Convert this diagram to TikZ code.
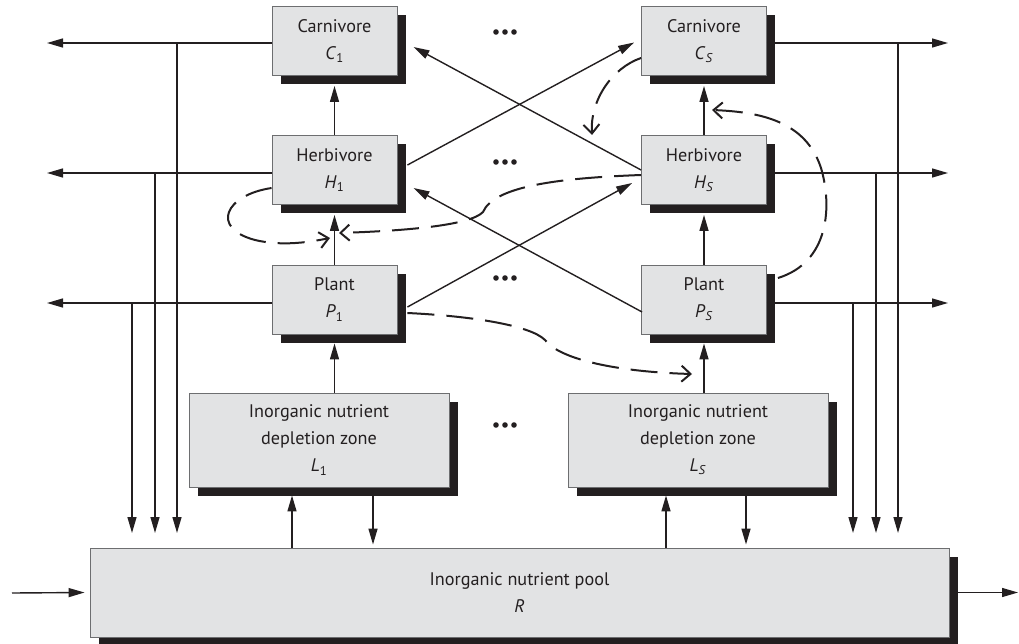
\documentclass[tikz,border=0pt]{standalone}
\usepackage{fontspec}
\setmainfont{PT Sans}
\usetikzlibrary{arrows.meta,shadows,calc}
\definecolor{ink}{HTML}{231F20}
\definecolor{boxfill}{HTML}{E2E3E4}
\definecolor{boxline}{HTML}{6D6E70}
\begin{document}
\begin{tikzpicture}[x=1pt,y=-1pt,
  box/.style={draw=boxline,line width=0.9pt,fill=boxfill,inner sep=0pt,align=center,
    font=\fontsize{18.2}{27}\selectfont,text=ink,
    drop shadow={shadow xshift=8.5pt,shadow yshift=-8.5pt,opacity=1,fill=ink}},
  small/.style={box,minimum width=125pt,minimum height=69pt},
  zone/.style={box,minimum width=260pt,minimum height=94pt},
  arr/.style={draw=ink,line width=1.4pt,-{Triangle[length=16pt,width=9pt]}},
  dsh/.style={draw=ink,line width=2pt,dash pattern=on 27pt off 12pt,
    -{Straight Barb[length=9pt,width=16pt,line width=2pt]}},
  dotrow/.style={fill=ink}
]
\useasboundingbox (0,0) rectangle (1019,644);

% boxes
\node[small] (C1) at (334.5,41) {Carnivore\\\textit{C}\textsubscript{1}};
\node[small] (CS) at (704,41) {Carnivore\\\textit{C}\textsubscript{\textit{S}}};
\node[small] (H1) at (334.5,170) {Herbivore\\\textit{H}\textsubscript{1}};
\node[small] (HS) at (704,170) {Herbivore\\\textit{H}\textsubscript{\textit{S}}};
\node[small] (P1) at (334.5,299.5) {Plant\\\textit{P}\textsubscript{1}};
\node[small] (PS) at (704,299.5) {Plant\\\textit{P}\textsubscript{\textit{S}}};
\node[zone] (L1) at (319,440) {Inorganic nutrient\\depletion zone\\\textit{L}\textsubscript{1}};
\node[zone] (LS) at (698,440) {Inorganic nutrient\\depletion zone\\\textit{L}\textsubscript{\textit{S}}};
\node[box,minimum width=859pt,minimum height=89pt] (R) at (519.5,592.5) {Inorganic nutrient pool\\\textit{R}};

% ellipses between the columns
\foreach \y in {32,162,278,425}
  \foreach \x in {496,505,514}
    \fill[dotrow] (\x,\y) circle (2.8pt);

% outflows to the left
\coordinate (oC1) at (47,43);
\coordinate (oH1) at (47,173);
\coordinate (oP1) at (47,303);
\draw[arr] (C1.west |- oC1) -- (oC1);
\draw[arr] (H1.west |- oH1) -- (oH1);
\draw[arr] (P1.west |- oP1) -- (oP1);

% outflows to the right
\coordinate (oCS) at (948,43);
\coordinate (oHS) at (948,173);
\coordinate (oPS) at (948,303);
\draw[arr] (CS.east |- oCS) -- (oCS);
\draw[arr] (HS.east |- oHS) -- (oHS);
\draw[arr] (PS.east |- oPS) -- (oPS);

% returns down into the pool
\coordinate (tips) at (0,533);
\coordinate (dC1) at (177,43);
\coordinate (dH1) at (155,173);
\coordinate (dP1) at (132,303);
\coordinate (dCS) at (898,43);
\coordinate (dHS) at (876,173);
\coordinate (dPS) at (853,303);
\foreach \c in {dC1,dH1,dP1,dCS,dHS,dPS}
  \draw[arr] (\c) -- (\c |- tips);

% trophic links within a column
\draw[arr] (P1.north) -- ([yshift=-10pt]H1.south);
\draw[arr] (H1.north) -- ([yshift=-10pt]C1.south);
\draw[arr] (PS.north) -- ([yshift=-10pt]HS.south);
\draw[arr] (HS.north) -- ([yshift=-10pt]CS.south);
\draw[arr] (L1.north -| P1.south) -- ([yshift=-9pt]P1.south);
\draw[arr] (LS.north -| PS.south) -- ([yshift=-9pt]PS.south);

% trophic links across columns
\draw[arr] ([shift={(10,-5)}]H1.east) -- ([shift={(-7,1.5)}]CS.west);
\draw[arr] ([shift={(0,0)}]HS.west) -- ([shift={(16,6)}]C1.east);
\draw[arr] ([shift={(10,7.5)}]P1.east) -- ([shift={(-9,13)}]HS.west);
\draw[arr] ([shift={(1,12.5)}]PS.west) -- ([shift={(16,18)}]H1.east);

% exchange between pool and depletion zones
\coordinate (u1) at (292,0);
\coordinate (d1) at (373,0);
\coordinate (uS) at (666,0);
\coordinate (dS) at (746,0);
\draw[arr] (R.north -| u1) -- ([yshift=-8pt]L1.south -| u1);
\draw[arr] ([yshift=-8pt]L1.south -| d1) -- ([yshift=3pt]R.north -| d1);
\draw[arr] (R.north -| uS) -- ([yshift=-8pt]LS.south -| uS);
\draw[arr] ([yshift=-8pt]LS.south -| dS) -- ([yshift=3pt]R.north -| dS);

% pool input and output
\coordinate (inR) at (12,593);
\coordinate (outR) at (1018,592.5);
\draw[arr] (inR) -- ([xshift=-5pt]R.west);
\draw[arr] ([xshift=8.5pt]R.east) -- (outR);

% indirect interactions (dashed)
\coordinate (k1) at (592,135);
\coordinate (k2) at (712,110);
\coordinate (k3) at (339,233);
\coordinate (k4) at (330,238);
\coordinate (k5) at (692,374);
\draw[dsh] ([shift={(0,17)}]CS.west) .. controls (612,68) and (590,100) .. (k1);
\draw[dsh] ([shift={(11,-21.5)}]PS.east) .. controls (830,262) and (832,205) .. (821,168)
  .. controls (806,122) and (762,112) .. (k2);
\draw[dsh] ([shift={(0,5)}]HS.west) .. controls (560,178) and (494,186) .. (483,212)
  .. controls (470,226) and (400,231) .. (k3);
\draw[dsh] ([shift={(0,18)}]H1.west) .. controls (225,195) and (210,228) .. (255,240)
  .. controls (280,246) and (305,243) .. (k4);
\draw[dsh] ([shift={(10,13.5)}]P1.east) .. controls (470,316) and (530,325) .. (545,340)
  .. controls (560,360) and (620,372) .. (k5);
\end{tikzpicture}
\end{document}
